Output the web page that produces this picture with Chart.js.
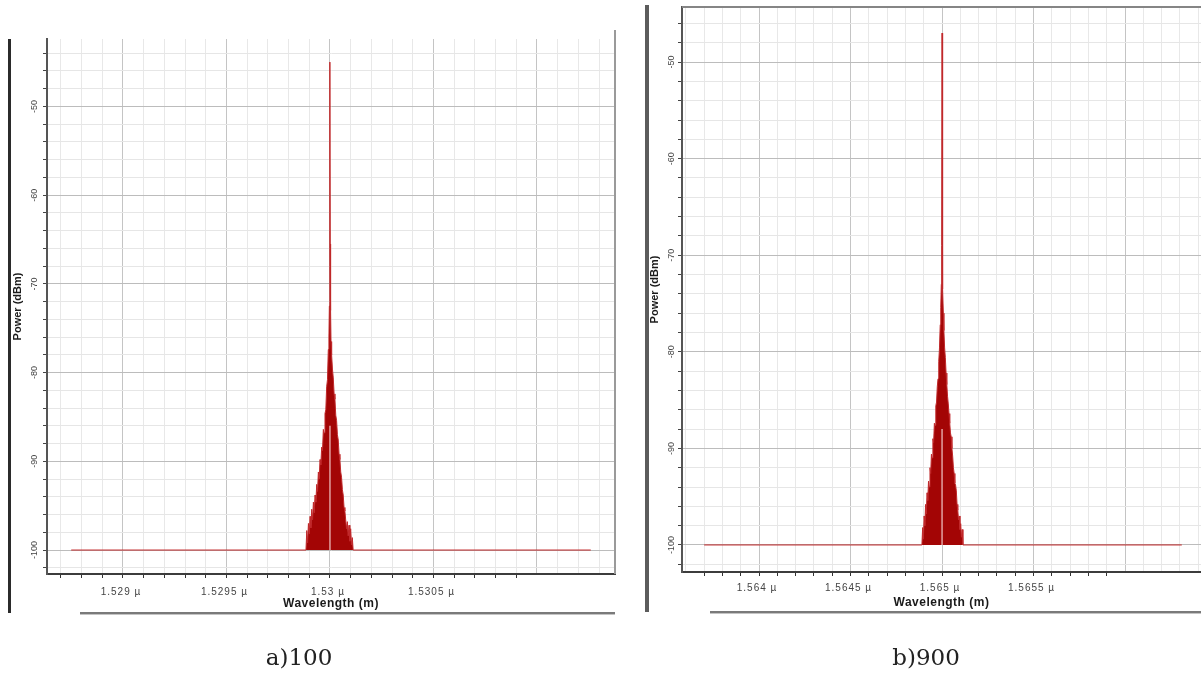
<!DOCTYPE html>
<html>
<head>
<meta charset="utf-8">
<script src="https://cdn.jsdelivr.net/npm/chart.js@4.4.1/dist/chart.umd.min.js"></script>
<style>
  html, body { margin: 0; padding: 0; background: #fff; }
  body { width: 1201px; height: 677px; position: relative; overflow: hidden; }
  .panel { position: absolute; top: 0; }
  .caption { position: absolute; top: 644px; width: 200px; text-align: center;
             font: 23px "DejaVu Serif", serif; color: #222; }
</style>
</head>
<body>
<div class="panel" style="left:0;width:630px;height:677px"><canvas id="chartA" width="630" height="677"></canvas></div>
<div class="panel" style="left:640px;width:561px;height:677px"><canvas id="chartB" width="561" height="677"></canvas></div>
<div class="caption" style="left:199px">a)100</div>
<div class="caption" style="left:826px">b)900</div>
<script>
// a) 100 : spectrum around 1.53 um
const wavelengthA = [
    1.52875, 1.529884, 1.529888, 1.529892, 1.529896, 1.5299, 1.529904, 1.529908, 1.529912,
    1.529916, 1.52992, 1.529924, 1.529928, 1.529932, 1.529936, 1.52994, 1.529944, 1.529948,
    1.529952, 1.529956, 1.52996, 1.529964, 1.529968, 1.529972, 1.529976, 1.52998, 1.529984,
    1.529988, 1.529992, 1.529995, 1.529997, 1.529999, 1.53, 1.530001, 1.530003, 1.530005,
    1.530008, 1.530012, 1.530016, 1.53002, 1.530024, 1.530028, 1.530032, 1.530036, 1.53004,
    1.530044, 1.530048, 1.530052, 1.530056, 1.53006, 1.530064, 1.530068, 1.530072, 1.530076,
    1.53008, 1.530084, 1.530088, 1.530092, 1.530096, 1.5301, 1.530104, 1.530108, 1.530112,
    1.53126
];
const powerA = [
    -100, -100, -97.8, -99.2, -97, -98.2, -96.2, -97.5, -95.4,
    -96.6, -94.6, -95.8, -93.8, -94.6, -92.6, -93.4, -91.2, -92,
    -89.8, -90.4, -88.4, -88.8, -86.4, -86.8, -84.6, -84.2, -81.6,
    -80.8, -77.4, -76, -72.5, -65, -45, -65.5, -73, -76.5,
    -78, -79.6, -80.6, -82.4, -83, -84.8, -85.4, -87, -87.6,
    -89.2, -89.8, -91.2, -91.8, -93.2, -93.8, -95.2, -95.6, -96.6,
    -97.6, -96.8, -98.4, -97.2, -99, -97.6, -99.4, -98.6, -100,
    -100
];
const gapWavelengthA = [1.53, 1.53];
const gapPowerA = [-100, -86];

// b) 900 : spectrum around 1.565 um
const wavelengthB = [
    1.5637, 1.56489, 1.564894, 1.564898, 1.564902, 1.564906, 1.56491, 1.564914, 1.564918,
    1.564922, 1.564926, 1.56493, 1.564934, 1.564938, 1.564942, 1.564946, 1.56495, 1.564954,
    1.564958, 1.564962, 1.564966, 1.56497, 1.564974, 1.564978, 1.564982, 1.564986, 1.56499,
    1.564993, 1.564996, 1.564998, 1.565, 1.565002, 1.565004, 1.565007, 1.56501, 1.565014,
    1.565018, 1.565022, 1.565026, 1.56503, 1.565034, 1.565038, 1.565042, 1.565046, 1.56505,
    1.565054, 1.565058, 1.565062, 1.565066, 1.56507, 1.565074, 1.565078, 1.565082, 1.565086,
    1.56509, 1.565094, 1.565098, 1.565102, 1.565106, 1.56511, 1.565114, 1.56631
];
const powerB = [
    -100, -100, -98.2, -99.4, -97, -98, -95.8, -96.8, -94.6,
    -95.4, -93.4, -94, -92, -92.6, -90.6, -91, -89, -89.4,
    -87.4, -87.6, -85.6, -85.2, -83.6, -82.8, -81, -79.6, -77.2,
    -75.4, -73, -69, -47, -69.5, -73.5, -76, -77.8, -79.6,
    -80.6, -82.2, -83.4, -84.6, -85.4, -86.4, -87.4, -88.4, -88.8,
    -90, -90.8, -92, -92.6, -93.6, -93.8, -94.4, -95.8, -96.4,
    -97.4, -97, -98.4, -97.8, -99.2, -98.4, -100, -100
];
const gapWavelengthB = [1.565, 1.565];
const gapPowerB = [-100, -88];

const yLabelValues = [-50, -60, -70, -80, -90, -100];
const xLabelValuesA = [1.529, 1.5295, 1.53, 1.5305];
const xLabelTextA = ['1.529 µ', '1.5295 µ', '1.53 µ', '1.5305 µ'];
const xLabelValuesB = [1.564, 1.5645, 1.565, 1.5655];
const xLabelTextB = ['1.564 µ', '1.5645 µ', '1.565 µ', '1.5655 µ'];

const SANS = 'Arial, "Liberation Sans", sans-serif';

function toPoints(xs, ys) {
    return xs.map((x, i) => ({ x: x, y: ys[i] }));
}

// axis texts and the window frame of the simulator plot
const frameText = {
    id: 'frameText',
    afterDraw(chart, args, o) {
        const ctx = chart.ctx;
        const a = chart.chartArea;
        const xs = chart.scales.x;
        const ys = chart.scales.y;
        ctx.save();

        ctx.fillStyle = '#444';
        ctx.font = '9px ' + SANS;
        ctx.textAlign = 'center';
        ctx.textBaseline = 'middle';
        yLabelValues.forEach(v => {
            ctx.save();
            ctx.translate(a.left - o.yLabelGap, ys.getPixelForValue(v));
            ctx.rotate(-Math.PI / 2);
            ctx.fillText(String(v), 0, 0);
            ctx.restore();
        });

        ctx.font = '10px ' + SANS;
        ctx.letterSpacing = '1px';
        o.xLabels.forEach((v, i) => {
            ctx.fillText(o.xTexts[i], xs.getPixelForValue(v) - 2, a.bottom + o.xLabelGap);
        });

        ctx.fillStyle = '#1a1a1a';
        ctx.font = 'bold 12px ' + SANS;
        ctx.letterSpacing = '0.5px';
        ctx.fillText('Wavelength (m)', (a.left + a.right) / 2, a.bottom + o.xTitleGap);
        ctx.save();
        ctx.translate(o.yTitleX, (a.top + a.bottom) / 2);
        ctx.rotate(-Math.PI / 2);
        ctx.letterSpacing = '0px';
        ctx.font = 'bold 11px ' + SANS;
        ctx.fillText('Power (dBm)', 0, 0);
        ctx.restore();

        // frame pieces
        const f = o.frame;
        ctx.fillStyle = f.barColor;
        ctx.fillRect(f.barX, f.barTop, f.barW, f.barBottom - f.barTop);
        if (f.rightBorder) {
            ctx.fillStyle = '#9a9a9a';
            ctx.fillRect(a.right - 1, f.rightTop, 2, a.bottom - f.rightTop);
        }
        if (f.topBorder) {
            ctx.fillStyle = '#858585';
            ctx.fillRect(a.left, a.top - 1, a.right - a.left, 2);
        }
        ctx.fillStyle = '#7a7a7a';
        ctx.fillRect(f.footLeft, f.footY, f.footRight - f.footLeft, 2);
        ctx.fillStyle = '#c4c4c4';
        ctx.fillRect(f.footLeft, f.footY + 2, f.footRight - f.footLeft, 1);
        ctx.restore();
    }
};

function makeChart(id, p) {
    const xTicks = [];
    for (let k = Math.ceil(p.xMin * 1e4); k <= Math.floor(p.xMax * 1e4); k++) xTicks.push(k);
    const yTicks = [];
    for (let k = Math.ceil(p.yMin / 2); k <= Math.floor(p.yMax / 2); k++) yTicks.push(k * 2);

    return new Chart(document.getElementById(id), {
        type: 'line',
        data: {
            datasets: [
                {
                    data: toPoints(p.gapX, p.gapY),
                    borderColor: '#f3c9c9',
                    borderWidth: 1.2,
                    pointRadius: 0,
                    fill: false,
                    order: 0
                },
                {
                    data: toPoints(p.wl, p.pw),
                    borderColor: '#c0282a',
                    borderWidth: 1,
                    backgroundColor: '#a30505',
                    pointRadius: 0,
                    tension: 0,
                    fill: { value: -100 },
                    order: 1
                }
            ]
        },
        options: {
            responsive: false,
            animation: false,
            devicePixelRatio: 1,
            layout: { padding: p.padding },
            plugins: {
                legend: { display: false },
                tooltip: { enabled: false },
                frameText: p.text
            },
            scales: {
                x: {
                    type: 'linear',
                    min: p.xMin,
                    max: p.xMax,
                    afterBuildTicks: s => { s.ticks = xTicks.map(k => ({ value: k / 1e4, k: k })); },
                    afterFit: s => { s.height = 40; },
                    ticks: { display: false },
                    border: { display: true, color: '#3c3c3c', width: 2 },
                    grid: {
                        color: c => (c.tick && Math.round(c.tick.value * 1e4) % 5 === 0) ? '#c4c4c4' : '#e8e8e8',
                        tickColor: c => {
                            const k = c.tick ? Math.round(c.tick.value * 1e4) : 0;
                            return (k >= p.markFrom && k <= p.markTo) ? '#333' : 'rgba(0,0,0,0)';
                        },
                        tickLength: 4,
                        lineWidth: 1
                    }
                },
                y: {
                    type: 'linear',
                    min: p.yMin,
                    max: p.yMax,
                    afterBuildTicks: s => { s.ticks = yTicks.map(v => ({ value: v })); },
                    afterFit: s => { s.width = p.yWidth; },
                    ticks: { display: false },
                    border: { display: true, color: '#555', width: 2 },
                    grid: {
                        color: c => (c.tick && c.tick.value % 10 === 0) ? '#bcbcbc' : '#e6e6e6',
                        tickColor: '#444',
                        tickLength: 4,
                        lineWidth: 1
                    }
                }
            }
        },
        plugins: [frameText]
    });
}

makeChart('chartA', {
    wl: wavelengthA, pw: powerA, gapX: gapWavelengthA, gapY: gapPowerA,
    xMin: 1.528633, xMax: 1.531377, yMin: -102.7, yMax: -42.4,
    markFrom: 15287, markTo: 15309,
    yWidth: 47,
    padding: { left: 0, top: 39, right: 15, bottom: 63 },
    text: {
        yLabelGap: 12, yTitleX: 18, xLabelGap: 18, xTitleGap: 30,
        xLabels: xLabelValuesA, xTexts: xLabelTextA,
        frame: {
            barColor: '#2b2b2b', barX: 8, barW: 3, barTop: 39, barBottom: 613,
            rightBorder: true, rightTop: 30, topBorder: false,
            footLeft: 80, footRight: 615, footY: 612
        }
    }
});

makeChart('chartB', {
    wl: wavelengthB, pw: powerB, gapX: gapWavelengthB, gapY: gapPowerB,
    xMin: 1.563579, xMax: 1.566415, yMin: -102.8, yMax: -44.3,
    markFrom: 15637, markTo: 15659,
    yWidth: 42,
    padding: { left: 0, top: 7, right: 0, bottom: 65 },
    text: {
        yLabelGap: 10, yTitleX: 15, xLabelGap: 16, xTitleGap: 31,
        xLabels: xLabelValuesB, xTexts: xLabelTextB,
        frame: {
            barColor: '#5c5c5c', barX: 5, barW: 4, barTop: 5, barBottom: 612,
            rightBorder: false, rightTop: 0, topBorder: true,
            footLeft: 70, footRight: 561, footY: 611
        }
    }
});
</script>
</body>
</html>
